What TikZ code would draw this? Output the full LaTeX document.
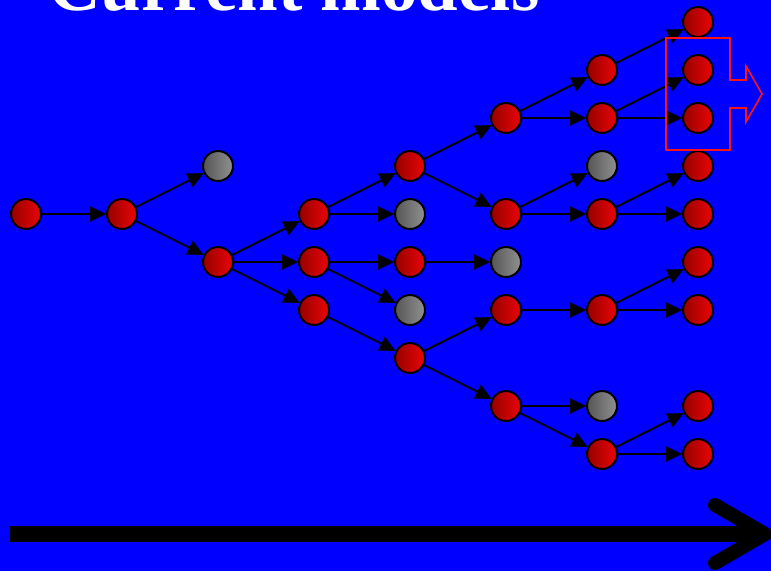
\documentclass[tikz,border=0pt]{standalone}
\usepackage{fontspec}
\setmainfont{Liberation Serif}
\usetikzlibrary{arrows.meta}
\definecolor{bg}{RGB}{0,0,255}
\definecolor{rdark}{RGB}{150,0,0}
\definecolor{rlight}{RGB}{235,5,5}
\definecolor{gdark}{RGB}{85,85,85}
\definecolor{glight}{RGB}{145,145,145}
\definecolor{outl}{RGB}{255,20,20}
\begin{document}
\begin{tikzpicture}[x=1pt,y=-1pt,
  ball/.style={circle,draw=black,line width=2pt,minimum size=30pt,inner sep=0pt,shading angle=45},
  rnode/.style={ball,left color=rdark,right color=rlight},
  gnode/.style={ball,left color=gdark,right color=glight},
  edge/.style={draw=black,line width=2pt,-{Triangle[length=16pt,width=15pt]}}]
\useasboundingbox (0,0) rectangle (771,571);
\clip (0,0) rectangle (771,571);
\fill[bg] (0,0) rectangle (771,571);
\node[anchor=base west,inner sep=0pt,text=white,font=\fontsize{73}{80}\selectfont\bfseries] (title) at (48,10) {Current models};
% nodes
\node[rnode] (A) at (26,214) {};
\node[rnode] (B) at (122,214) {};
\node[gnode] (C) at (218,166) {};
\node[rnode] (D) at (218,262) {};
\node[rnode] (E) at (314,214) {};
\node[rnode] (F) at (314,262) {};
\node[rnode] (G) at (314,310) {};
\node[rnode] (H) at (410,166) {};
\node[gnode] (I) at (410,214) {};
\node[rnode] (J) at (410,262) {};
\node[gnode] (K) at (410,310) {};
\node[rnode] (L) at (410,358) {};
\node[rnode] (M) at (506,118) {};
\node[rnode] (N) at (506,214) {};
\node[gnode] (O) at (506,262) {};
\node[rnode] (P) at (506,310) {};
\node[rnode] (Q) at (506,406) {};
\node[rnode] (R) at (602,70) {};
\node[rnode] (S) at (602,118) {};
\node[gnode] (T) at (602,166) {};
\node[rnode] (U) at (602,214) {};
\node[rnode] (V) at (602,310) {};
\node[gnode] (W) at (602,406) {};
\node[rnode] (X) at (602,454) {};
\node[rnode] (Z1) at (698,22) {};
\node[rnode] (Z2) at (698,70) {};
\node[rnode] (Z3) at (698,118) {};
\node[rnode] (Z4) at (698,166) {};
\node[rnode] (Z5) at (698,214) {};
\node[rnode] (Z6) at (698,262) {};
\node[rnode] (Z7) at (698,310) {};
\node[rnode] (Z8) at (698,406) {};
\node[rnode] (Z9) at (698,454) {};
% edges
\foreach \a/\b in {A/B,B/C,B/D,D/E,D/F,D/G,E/H,E/I,F/J,F/K,G/L,J/O,H/M,H/N,L/P,L/Q,
  M/R,M/S,N/T,N/U,P/V,Q/W,Q/X,R/Z1,S/Z2,S/Z3,U/Z4,U/Z5,V/Z6,V/Z7,X/Z8,X/Z9}
  \draw[edge] (\a) -- (\b);
% red outline arrow
\draw[outl,line width=1.6pt] (666,38) -- (730,38) -- (730,80) -- (746,80) -- (746,66)
  -- (762,94) -- (746,122) -- (746,108) -- (730,108) -- (730,150) -- (666,150) -- cycle;
% time arrow
\coordinate (ts) at (10,534);
\coordinate (te) at (758,534);
\draw[black,line width=16pt] (ts) -- (te);
\draw[black,line width=14pt,line cap=round,line join=miter] (715,505) -- (765,534) -- (715,563);
\end{tikzpicture}
\end{document}
